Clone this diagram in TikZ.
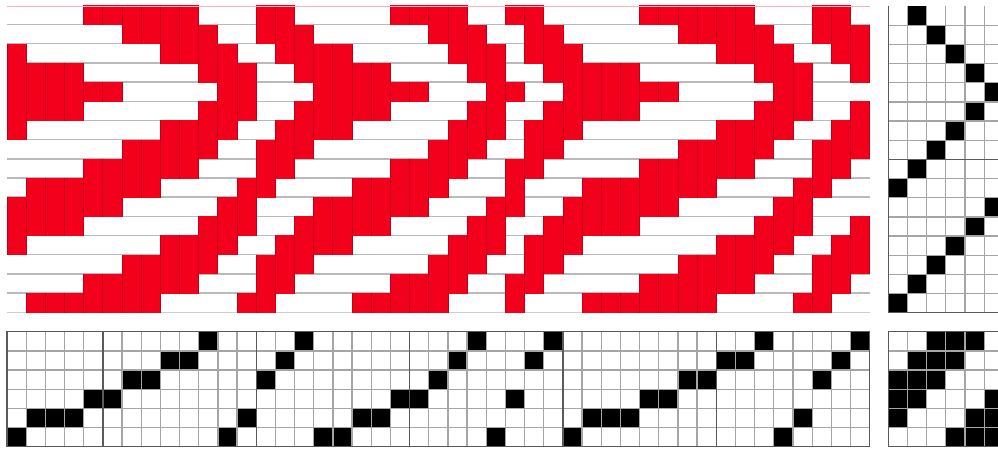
\documentclass[tikz,border=0pt]{standalone}
\definecolor{wred}{RGB}{243,0,28}
\definecolor{wedge}{RGB}{190,0,26}
\definecolor{floatline}{RGB}{186,186,186}
\definecolor{topline}{RGB}{255,170,180}
\definecolor{gridthin}{RGB}{165,165,165}
\definecolor{gridbold}{RGB}{90,90,90}
\tikzset{
  floatrule/.style={draw=floatline,line width=1.5pt},
  seam/.style={draw=wedge,line width=0.8pt},
  thinrule/.style={draw=gridthin,line width=1.3pt},
  boldrule/.style={draw=gridbold,line width=1.4pt},
  peg/.style={fill=black}
}
\def\cw{19.17}
% shaft (row from the top of the threading grid) of each of the 45 warp ends
\def\thr{{5,4,4,4,3,3,2,2,1,1,0,5,4,2,1,0,5,5,4,4,3,3,2,1,0,5,3,1,0,5,4,4,4,3,3,2,2,1,1,0,5,4,2,1,0}}
% treadle of each weft row, with a sentinel 6 at both ends
\def\trd{{6,1,2,3,4,5,4,3,2,1,0,5,4,3,2,1,0,6}}
% tie-up: row by row, 7 columns (column 6 empty = sentinel)
\def\tie{{0,0,1,1,1,0,0, 0,1,1,1,0,0,0, 1,1,1,0,0,0,0, 1,1,0,0,0,1,0, 1,0,0,0,1,1,0, 0,0,0,1,1,1,0}}
\begin{document}
\begin{tikzpicture}[x=1pt,y=-1pt]
\useasboundingbox (0,0) rectangle (998,448);
\clip (0,0) rectangle (998,448);
\fill[white] (0,0) rectangle (998,448);
% ---------- drawdown ----------
\foreach \r in {1,...,15}{
  \draw[floatrule] (7,{6+\r*\cw-0.6}) -- (869.7,{6+\r*\cw-0.6});
}
\draw[floatrule,draw opacity=.7] (7,312.7) -- (869.7,312.7);
\foreach \c in {0,...,44}{
  \pgfmathtruncatemacro\s{\thr[\c]}
  \foreach \r in {1,...,16}{
    \pgfmathtruncatemacro\here{\tie[\s*7+\trd[\r]]}
    \ifnum\here=1
      \pgfmathsetmacro\xa{7+\c*\cw}
      \pgfmathsetmacro\xb{\xa+\cw}
      \pgfmathsetmacro\ya{6+(\r-1)*\cw-0.6}
      \pgfmathsetmacro\yb{\ya+\cw+0.6}
      \fill[wred] (\xa,\ya) rectangle (\xb,\yb);
      \draw[seam] (\xa,\ya) -- (\xa,\yb);
      \draw[seam] (\xb,\ya) -- (\xb,\yb);
    \fi
  }
}
\draw[topline,line width=0.8pt] (7,6) -- (869.7,6);
% ---------- threading ----------
\foreach \c in {0,...,44}{
  \pgfmathtruncatemacro\s{\thr[\c]}
  \fill[peg] ({7+\c*\cw},{331.7+\s*\cw}) rectangle ++(\cw,\cw);
}
\foreach \c in {1,...,44}{
  \draw[thinrule] ({7+\c*\cw},331.7) -- ({7+\c*\cw},446.7);
}
\foreach \r in {1,...,5}{
  \draw[thinrule] (7,{331.7+\r*\cw}) -- (869.7,{331.7+\r*\cw});
}
\foreach \c in {5,13,21,29,37}{
  \draw[boldrule] ({7+\c*\cw},331.7) -- ({7+\c*\cw},446.7);
}
\draw[boldrule] (7,331.7) rectangle (869.7,446.7);
% ---------- treadling ----------
\foreach \r in {1,...,16}{
  \pgfmathtruncatemacro\t{\trd[\r]}
  \fill[peg] ({888.3+\t*\cw},{6+(\r-1)*\cw}) rectangle ++(\cw,\cw);
}
\foreach \c in {1,...,5}{
  \draw[thinrule] ({888.3+\c*\cw},6) -- ({888.3+\c*\cw},312.7);
}
\foreach \r in {1,...,15}{
  \draw[thinrule] (888.3,{6+\r*\cw}) -- (998,{6+\r*\cw});
}
\draw[boldrule] (888.3,6) -- (888.3,312.7) -- (998,312.7);
\draw[boldrule] (888.3,159.4) -- (998,159.4);
% ---------- tie-up ----------
\foreach \r in {0,...,5}{
  \foreach \c in {0,...,5}{
    \pgfmathtruncatemacro\v{\tie[\r*7+\c]}
    \ifnum\v=1
      \fill[peg] ({888.3+\c*\cw},{331.7+\r*\cw}) rectangle ++(\cw,\cw);
    \fi
  }
}
\foreach \c in {1,...,5}{
  \draw[thinrule] ({888.3+\c*\cw},331.7) -- ({888.3+\c*\cw},446.7);
}
\foreach \r in {1,...,5}{
  \draw[thinrule] (888.3,{331.7+\r*\cw}) -- (998,{331.7+\r*\cw});
}
\draw[boldrule] (998,331.7) -- (888.3,331.7) -- (888.3,446.7) -- (998,446.7);
\end{tikzpicture}
\end{document}
